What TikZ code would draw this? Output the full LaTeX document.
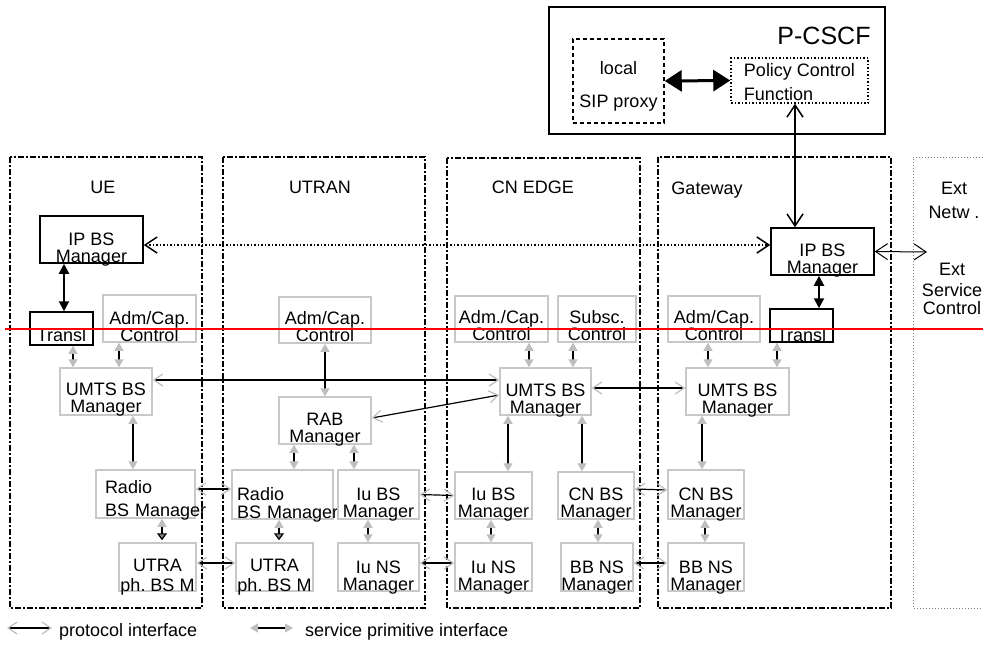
\documentclass[tikz,border=0pt]{standalone}
\usepackage{fontspec}
\setmainfont{Liberation Sans}
\usetikzlibrary{arrows.meta,positioning}
\definecolor{boxgray}{RGB}{200,200,200}
\definecolor{tipgray}{RGB}{190,190,190}
\newcommand{\boxfont}{\fontsize{18}{17}\selectfont}
\tikzset{
  panel/.style={draw, line width=1.8pt, dash pattern=on 6pt off 2pt on 2pt off 2pt},
  gbox/.style={rectangle, draw=boxgray, line width=1.5pt, inner sep=0pt, align=center,
               font=\boxfont, text height=43pt, text depth=0pt},
  kbox/.style={gbox, draw=black},
  sz/.style 2 args={minimum width=#1pt, minimum height=#2pt},
  title/.style={font=\boxfont, inner sep=1pt},
  prot/.style={{Straight Barb[length=9pt,width=12pt,color=tipgray]}-{Straight Barb[length=9pt,width=12pt,color=tipgray]}, line width=1.2pt},
  prim/.style={{Triangle[length=8pt,width=9pt,color=tipgray]}-{Triangle[length=8pt,width=9pt,color=tipgray]}, line width=1.2pt},
  primdn/.style={{Triangle[length=8pt,width=9pt,color=tipgray]}-{Triangle[length=7pt,width=10pt,color=black,fill=tipgray!70!black]}, line width=1.2pt, shorten >=2pt},
  ctrl/.style={{Triangle[length=10pt,width=10pt]}-{Triangle[length=10pt,width=10pt]}, line width=2pt},
  ipline/.style={{Straight Barb[length=12pt,width=16pt]}-{Straight Barb[length=12pt,width=16pt]}, line width=1.5pt},
  bigarrow/.style={{Triangle[length=17pt,width=21pt]}-{Triangle[length=17pt,width=21pt]}, line width=3pt},
}

\begin{document}
\begin{tikzpicture}[x=1pt, y=-1pt]
\useasboundingbox (0,0) rectangle (983,651);

% domains
\draw[panel] (10,157) rectangle (202,608);
\draw[panel] (223,157) rectangle (425,608);
\draw[panel] (447,158) rectangle (640,608);
\draw[panel] (658,157) rectangle (891,608);
\draw[gray, line width=1pt, dotted] (983,157) -- (913,157) -- (913,608) -- (983,608);

\node[title] (uet) at (103,187) {UE};
\node[title] (utrant) at (320,187) {UTRAN};
\node[title] (cnt) at (533,187) {CN EDGE};
\node[title] (gwt) at (707,190) {Gateway};
\node[title, align=center] (extt) at (954,200) {Ext\\[7pt]Netw .};
\node[title, align=center] (extsc) at (952,289) {Ext\\[4pt]Service\\[1pt]Control};

% P-CSCF
\draw[line width=1.8pt] (549,7) rectangle (885,134);
\node[font=\fontsize{25}{28}\selectfont] (pcscf) at (824,36) {P-CSCF};
\node[gbox, draw=black, dash pattern=on 4pt off 3pt, sz={91}{84}, text height=52pt] (sip) at (618.5,81) {local\\[16pt]SIP proxy};
\node[gbox, draw=black, dotted, align=left, sz={137}{45}, text height=39pt] (pcf) at (799.5,80.5) {Policy Control\\[7pt]Function};

% UE
\node[kbox, sz={103}{47}, text height=45pt] (ueip) at (91.5,239.5) {IP BS\\Manager};
\node[kbox, sz={63}{33}, text height=25pt] (uetr) at (61.5,328.5) {Transl};
\node[gbox, sz={93}{47}, text height=46pt] (ueadm) at (149.5,318.5) {Adm/Cap.\\Control};
\node[gbox, sz={92}{47}, text height=41pt] (ueumts) at (106,391.5) {UMTS BS\\Manager};
\node[gbox, sz={99}{48}, align=left, text width=81pt, text height=15pt, text depth=17pt] (ueradio) at (145.5,494) {Radio\\[6pt]\mbox{BS Manager}};
\node[gbox, sz={77}{48}, text height=48pt] (ueutra) at (157.5,567) {UTRA\\[3pt]ph.\ BS M};

% UTRAN
\node[gbox, sz={92}{46}] (uradm) at (325,320) {Adm/Cap.\\Control};
\node[gbox, sz={92}{47}] (rab) at (325,420.5) {RAB\\Manager};
\node[gbox, sz={101}{49}, align=left, text width=91pt, text height=22pt, text depth=11pt] (urradio) at (282.5,494.5) {Radio\\[1pt]\mbox{BS Manager}};
\node[gbox, sz={81}{49}, text height=46pt] (iubs) at (378.5,494.5) {Iu BS\\Manager};
\node[gbox, sz={77}{48}, text height=48pt] (urutra) at (274.5,567) {UTRA\\[3pt]ph.\ BS M};
\node[gbox, sz={81}{48}, text height=46pt] (iuns) at (378.5,567) {Iu NS\\Manager};

% CN EDGE
\node[gbox, sz={93}{46}] (cnadm) at (501.5,319) {Adm./Cap.\\Control};
\node[gbox, sz={78}{46}] (subsc) at (597,319) {Subsc.\\Control};
\node[gbox, sz={91}{47}] (cnumts) at (545.5,391.5) {UMTS BS\\Manager};
\node[gbox, sz={77}{47}] (cniubs) at (493.5,495.5) {Iu BS\\Manager};
\node[gbox, sz={77}{48}, text height=46pt] (cniuns) at (493.5,567) {Iu NS\\Manager};
\node[gbox, sz={76}{47}] (cnbs) at (596,495.5) {CN BS\\Manager};
\node[gbox, sz={72}{48}, text height=46pt] (bbns) at (597,567) {BB NS\\Manager};

% Gateway
\node[kbox, sz={103}{47}] (gwip) at (822.5,251.5) {IP BS\\Manager};
\node[gbox, sz={92}{46}] (gwadm) at (714,319) {Adm/Cap.\\Control};
\node[kbox, sz={63}{33}, text height=32pt] (gwtr) at (801.5,325.5) {Transl};
\node[gbox, sz={103}{47}] (gwumts) at (737.5,391.5) {UMTS BS\\Manager};
\node[gbox, sz={76}{49}, text height=46pt] (gwcnbs) at (706,494.5) {CN BS\\Manager};
\node[gbox, sz={76}{48}, text height=46pt] (gwbbns) at (706,567) {BB NS\\Manager};
\coordinate (extin) at (927,252);

% protocol interfaces
\draw[prot] ([yshift=11.5pt]ueumts.east) -- ([yshift=11.5pt]cnumts.west);
\draw[prot] ([yshift=2.5pt]rab.east) -- ([yshift=-3.5pt]cnumts.west);
\draw[prot] ([yshift=3.5pt]cnumts.east) -- ([yshift=3.5pt]gwumts.west);
\draw[prot] ([yshift=5pt]ueradio.east) -- ([yshift=5.5pt]urradio.west);
\draw[prot] ([yshift=4pt]ueutra.east) -- ([yshift=4pt]urutra.west);
\draw[prot] (iubs.east) -- (cniubs.west);
\draw[prot] ([yshift=4pt]iuns.east) -- ([yshift=4pt]cniuns.west);
\draw[prot] ([yshift=6.5pt]cnbs.east) -- ([yshift=4.5pt]gwcnbs.west);
\draw[prot] ([yshift=4pt]bbns.east) -- ([yshift=4pt]gwbbns.west);

% service primitives
\draw[prim] ([xshift=11.5pt]uetr.south) -- ([xshift=-33pt]ueumts.north);
\draw[prim] ([xshift=-30.5pt]ueadm.south) -- ([xshift=13pt]ueumts.north);
\draw[prim] ([xshift=27pt]ueumts.south) -- ([xshift=-12.5pt]ueradio.north);
\draw[primdn] ([xshift=16.5pt]ueradio.south) -- ([xshift=4.5pt]ueutra.north);
\draw[prim] (uradm.south) -- (rab.north);
\draw[prim] ([xshift=-31pt]rab.south) -- ([xshift=11.5pt]urradio.north);
\draw[prim] ([xshift=29pt]rab.south) -- ([xshift=-24.5pt]iubs.north);
\draw[primdn] ([xshift=-3.5pt]urradio.south) -- ([xshift=4.5pt]urutra.north);
\draw[prim] ([xshift=-10.5pt]iubs.south) -- ([xshift=-10.5pt]iuns.north);
\draw[prim] ([xshift=27.5pt]cnadm.south) -- ([xshift=-16.5pt]cnumts.north);
\draw[prim] ([xshift=-24pt]subsc.south) -- ([xshift=27.5pt]cnumts.north);
\draw[prim] ([xshift=-37.5pt]cnumts.south) -- ([xshift=14.5pt]cniubs.north);
\draw[prim] ([xshift=36.5pt]cnumts.south) -- ([xshift=-14pt]cnbs.north);
\draw[prim] ([xshift=-2.5pt]cniubs.south) -- ([xshift=-2.5pt]cniuns.north);
\draw[prim] ([xshift=2pt]cnbs.south) -- ([xshift=1pt]bbns.north);
\draw[prim] ([xshift=-6pt]gwadm.south) -- ([xshift=-29.5pt]gwumts.north);
\draw[prim] ([xshift=-24.5pt]gwtr.south) -- ([xshift=39.5pt]gwumts.north);
\draw[prim] ([xshift=-35.5pt]gwumts.south) -- ([xshift=-4pt]gwcnbs.north);
\draw[prim] ([xshift=-1pt]gwcnbs.south) -- ([xshift=-1pt]gwbbns.north);

% IP level
\draw[ctrl] ([xshift=-27.5pt]ueip.south) -- ([xshift=2.5pt]uetr.north);
\draw[ctrl] ([xshift=-3.5pt]gwip.south) -- ([xshift=17.5pt]gwtr.north);
\draw[ipline, dotted] ([yshift=-5.5pt]ueip.east) -- ([yshift=6.5pt]gwip.west);
\draw[ipline] ([xshift=-4.5pt]pcf.south) -- ([xshift=-27.5pt]gwip.north);
\draw[ipline, line width=1pt] (gwip.east) -- (extin);
\draw[bigarrow] (sip.east) -- (pcf.west);

% legend
\coordinate (lp1) at (7,628);
\coordinate (lp2) at (52,628);
\draw[prot] (lp1) -- (lp2);
\node[title, anchor=west] (lprot) at (58,632) {protocol interface};
\coordinate (ls1) at (250,628);
\coordinate (ls2) at (293,628);
\draw[prim] (ls1) -- (ls2);
\node[title, anchor=west] (lprim) at (304,632) {service primitive interface};

\draw[red, line width=2pt] (5,329) -- (983,329);
\end{tikzpicture}
\end{document}
